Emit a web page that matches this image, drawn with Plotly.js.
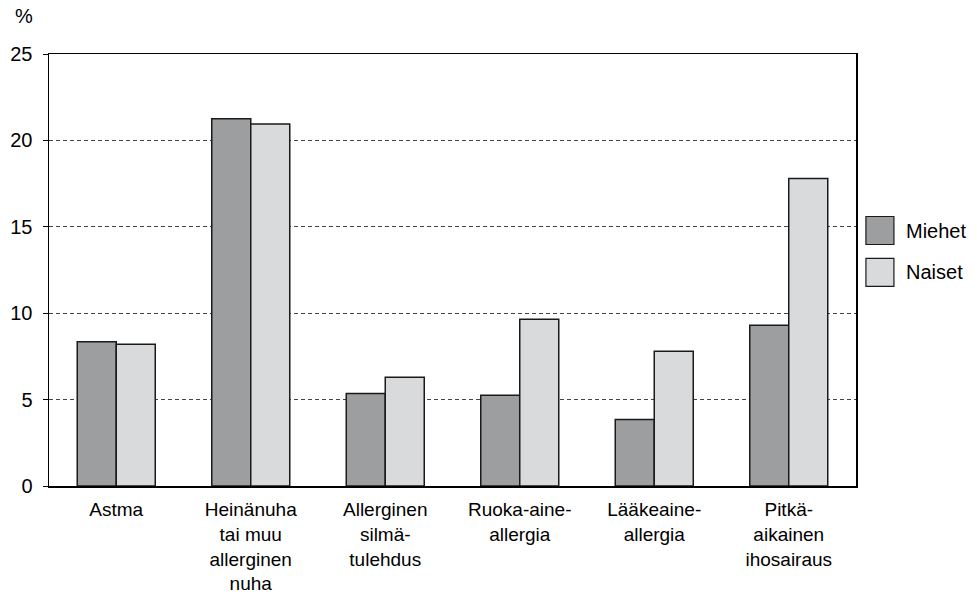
<!DOCTYPE html>
<html>
<head>
<meta charset="utf-8">
<script src="https://cdn.plot.ly/plotly-3.0.1.min.js"></script>
<style>html,body{margin:0;padding:0;background:#fff;}#chart{width:977px;height:594px;}</style>
</head>
<body>
<div id="chart"></div>
<script>
const categories = [
  "Astma",
  "Heinänuha<br>tai muu<br>allerginen<br>nuha",
  "Allerginen<br>silmä-<br>tulehdus",
  "Ruoka-aine-<br>allergia",
  "Lääkeaine-<br>allergia",
  "Pitkä-<br>aikainen<br>ihosairaus"
];
const seriesNames = ["Miehet", "Naiset"];
const miehet = [8.35, 21.25, 5.35, 5.25, 3.85, 9.3];
const naiset = [8.2, 20.95, 6.3, 9.65, 7.8, 17.8];
const yTicks = [0, 5, 10, 15, 20, 25];
const colors = ["#9d9ea0", "#d9dadc"];

const fam = "Liberation Sans, Arial, sans-serif";
const font = {family: fam, size: 20, color: "#000"};
const xfont = {family: fam, size: 19, color: "#000"};

const traces = [miehet, naiset].map((vals, i) => ({
  type: "bar",
  name: seriesNames[i],
  x: categories,
  y: vals,
  marker: {color: colors[i], line: {color: "#1a1a1a", width: 1.5}},
  hoverinfo: "none"
}));

// custom legend boxes (paper coordinates)
const shapes = [];
const annotations = [{
  text: "%", xref: "paper", yref: "paper", x: -0.045, y: 1.088,
  xanchor: "left", yanchor: "middle", showarrow: false, font: font
}];
seriesNames.forEach((n, i) => {
  const y0 = 0.559 - i * 0.097;
  shapes.push({
    type: "rect", xref: "paper", yref: "paper",
    x0: 1.0123, x1: 1.047, y0: y0, y1: y0 + 0.0648,
    fillcolor: colors[i], line: {color: "#1a1a1a", width: 1.2}
  });
  annotations.push({
    text: n, xref: "paper", yref: "paper", x: 1.059, y: y0 + 0.0324,
    xanchor: "left", yanchor: "middle", showarrow: false, font: font
  });
});

const layout = {
  width: 977, height: 594,
  margin: {l: 49, r: 121, t: 54, b: 108},
  paper_bgcolor: "#fff", plot_bgcolor: "#fff",
  font: font,
  showlegend: false,
  barmode: "group",
  bargap: 0.42,
  bargroupgap: 0,
  xaxis: {
    showline: true, mirror: true, linecolor: "#000", linewidth: 1.5,
    ticks: "", showgrid: false, tickfont: xfont, tickangle: 0, fixedrange: true,
    ticklabelstandoff: 6
  },
  yaxis: {
    range: [0, 25], tickvals: yTicks, ticktext: yTicks.map(String),
    showline: true, mirror: true, linecolor: "#000", linewidth: 1.5,
    ticks: "outside", ticklen: 5, tickcolor: "#000", tickwidth: 1,
    showgrid: true, gridcolor: "#444", griddash: "4px,3px", gridwidth: 1,
    zeroline: false, tickfont: font, fixedrange: true,
    ticklabelstandoff: 6
  },
  shapes: shapes,
  annotations: annotations
};

Plotly.newPlot("chart", traces, layout, {displayModeBar: false, staticPlot: true});
</script>
</body>
</html>
